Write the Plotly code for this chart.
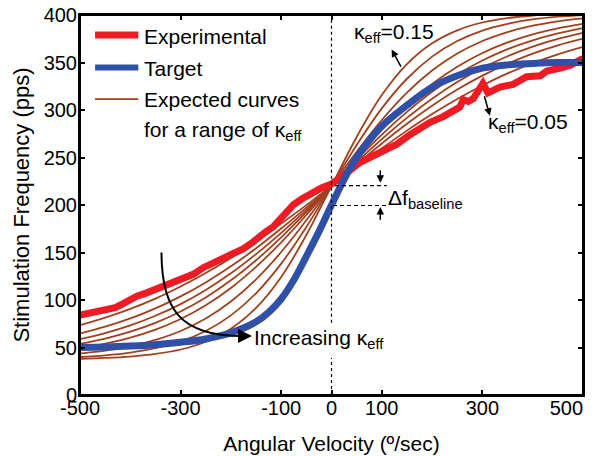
import plotly.graph_objects as go

# ---------------- data ----------------
X_GRID = [-500, -450, -400, -350, -300, -250, -200, -150, -100, -50, 0,
          50, 100, 150, 200, 250, 300, 350, 400, 450, 500]

EXPECTED_CURVES = [
    [73.5, 81.4, 90.7, 101.5, 114.2, 128.4, 144.3, 161.7, 180.4, 199.9, 220,
     240.1, 259.6, 278.3, 295.7, 311.6, 325.8, 338.5, 349.3, 358.6, 366.5],
    [64.8, 71.9, 80.6, 91.2, 103.8, 118.5, 135.4, 154.4, 175.2, 197.2, 220,
     242.8, 264.8, 285.6, 304.6, 321.5, 336.2, 348.8, 359.4, 368.1, 375.2],
    [58.8, 65.2, 73.3, 83.4, 95.7, 110.6, 128.1, 148.3, 170.7, 194.9, 220,
     245.1, 269.3, 291.7, 311.9, 329.4, 344.3, 356.6, 366.7, 374.8, 381.2],
    [53.7, 59.3, 66.6, 75.9, 87.9, 102.7, 120.7, 141.9, 166.0, 192.4, 220,
     247.6, 274.0, 298.1, 319.3, 337.3, 352.1, 364.1, 373.4, 380.7, 386.3],
    [49.3, 54.0, 60.3, 68.8, 80.0, 94.5, 112.7, 134.9, 160.7, 189.5, 220,
     250.5, 279.3, 305.1, 327.3, 345.5, 360.0, 371.2, 379.7, 386.0, 390.7],
    [43.6, 46.7, 51.3, 58.0, 67.4, 80.6, 98.5, 121.7, 150.5, 183.9, 220,
     256.1, 289.5, 318.3, 341.5, 359.4, 372.6, 382.0, 388.7, 393.3, 396.4],
    [40.0, 41.8, 44.7, 49.3, 56.4, 67.4, 83.8, 107.1, 138.3, 176.9, 220,
     263.1, 301.7, 332.9, 356.2, 372.6, 383.6, 390.7, 395.3, 398.2, 400.0],
    [38.1, 39.0, 40.5, 43.2, 47.9, 56.1, 69.8, 91.7, 124.3, 168.4, 220,
     271.6, 315.7, 348.3, 370.2, 383.9, 392.1, 396.8, 399.5, 401.0, 401.9],
]

TARGET_X = [-500, -450, -400, -350, -300, -250, -200, -150, -125, -100, -75, -50, -25, 0,
            25, 50, 75, 100, 150, 200, 250, 300, 350, 400, 450, 500]
TARGET_Y = [50, 50.5, 51.5, 53, 55.5, 59, 65.5, 77, 87, 101, 121, 146, 172, 200,
            227, 250, 268, 283, 305, 324, 336, 344, 347.5, 349, 350, 350]

EXP_X = [-500, -490, -475, -460, -441, -430, -415, -405, -387, -370, -355, -341, -320,
         -301, -285, -275, -255, -240, -225, -208, -190, -175, -156, -142, -130, -116,
         -102, -90, -76, -60, -40, -20, 0, 20, 40, 57, 80, 100, 130, 156, 180, 196, 222,
         240, 255, 262, 272, 282, 292, 301, 311, 320, 335, 361, 388, 415, 428, 455, 475,
         495, 500]
EXP_Y = [84, 85, 87, 88, 90, 92, 96, 99, 104, 107, 110, 114, 117,
         121, 124, 127, 134, 138, 141, 145, 150, 154, 161, 168, 172, 177,
         186, 193, 200, 206, 213, 218, 222, 229, 238, 245, 251, 255, 264, 274, 282, 287, 293,
         298, 303, 311, 309, 312, 322, 328, 318, 320, 324, 327, 335, 336, 341, 344, 347,
         353, 354]

X_TICKS = [-500, -300, -100, 0, 100, 300, 500]
# the last label sits left of its tick in the reference (kept inside the figure)
X_TICK_TEXT = ["-500", "-300", "-100", "0", "100", "300", "500" + "\u00a0" * 6]

RED = "#ED1C24"
BLUE = "#3050A8"
BROWN = "#A0401E"
FONT = "Liberation Sans, Arial, sans-serif"

fig = go.Figure()

for ys in EXPECTED_CURVES:
    fig.add_trace(go.Scatter(x=X_GRID, y=ys, mode="lines", line=dict(color=BROWN, width=1.8, shape="spline"),
                             showlegend=False, hoverinfo="skip"))
fig.add_trace(go.Scatter(x=EXP_X, y=EXP_Y, mode="lines", line=dict(color=RED, width=7),
                         showlegend=False))
fig.add_trace(go.Scatter(x=TARGET_X, y=TARGET_Y, mode="lines", line=dict(color=BLUE, width=7, shape="spline"),
                         showlegend=False))

shapes = []
# plot frame
shapes.append(dict(type="rect", xref="paper", yref="paper", x0=0, x1=1, y0=0, y1=1,
                   line=dict(color="black", width=2), layer="above"))
# dashed vertical line at 0 (broken where the label sits)
for y0, y1 in [(0, 39), (76, 400)]:
    shapes.append(dict(type="line", xref="x", yref="y", x0=0, x1=0, y0=y0, y1=y1,
                       line=dict(color="black", width=1.2, dash="3px,3px")))
# baseline difference dashed lines
shapes.append(dict(type="line", xref="x", yref="y", x0=7, x1=110, y0=220.5, y1=220.5,
                   line=dict(color="black", width=1.2, dash="4px,3px")))
shapes.append(dict(type="line", xref="x", yref="y", x0=3, x1=110, y0=199.5, y1=199.5,
                   line=dict(color="black", width=1.2, dash="4px,3px")))
# curved "increasing" arrow
shapes.append(dict(type="path", xref="x", yref="y",
                   path="M -338,150 C -338,90 -300,62 -178,62",
                   line=dict(color="black", width=2)))
# manual legend samples
shapes.append(dict(type="line", xref="x", yref="y", x0=-470, x1=-384, y0=379, y1=379,
                   line=dict(color=RED, width=7)))
shapes.append(dict(type="line", xref="x", yref="y", x0=-470, x1=-384, y0=344.7, y1=344.7,
                   line=dict(color=BLUE, width=6)))
shapes.append(dict(type="line", xref="x", yref="y", x0=-470, x1=-384, y0=311.5, y1=311.5,
                   line=dict(color=BROWN, width=1.8)))

ann = []
def txt(x, y, t, size=21):
    ann.append(dict(x=x, y=y, xref="x", yref="y", text=t, showarrow=False,
                    xanchor="left", yanchor="middle", font=dict(family=FONT, size=size, color="black")))

def arrow(hx, hy, tx, ty, head=2, size=1, width=1.5):
    ann.append(dict(x=hx, y=hy, ax=tx, ay=ty, xref="x", yref="y", axref="x", ayref="y",
                    text="", showarrow=True, arrowhead=head, arrowsize=size, arrowwidth=width,
                    arrowcolor="black"))

txt(-376, 377.3, "Experimental")
txt(-376, 344, "Target")
txt(-376, 310.7, "Expected curves")
txt(-376, 278.1, "for a range of κ<sub>eff</sub>")
txt(40, 381, "κ<sub>eff</sub>=0.15")
txt(308, 286, "κ<sub>eff</sub>=0.05")
txt(-158, 59, "Increasing κ<sub>eff</sub>")
txt(108, 206, "Δf<sub>baseline</sub>")

arrow(119.6, 363.7, 139.6, 344)
arrow(315, 294, 303, 316)
arrow(97, 223.5, 97, 238)
arrow(97, 198, 97, 183)
arrow(-158, 62, -182, 62, head=2, size=1.4, width=2)

# page body has an 8 px margin: figure is 592x448 so the plot lands where the reference has it
fig.update_layout(
    width=592, height=448,
    margin=dict(l=72, r=17, t=7, b=61, autoexpand=False),
    paper_bgcolor="white", plot_bgcolor="white",
    font=dict(family=FONT, size=20, color="black"),
    shapes=shapes, annotations=ann, showlegend=False,
)
fig.update_xaxes(range=[-500, 500], tickvals=X_TICKS, ticktext=X_TICK_TEXT,
                 ticks="inside", ticklen=5, tickwidth=1.5, tickcolor="black",
                 showline=True, linecolor="black", linewidth=2, mirror="ticks",
                 showgrid=False, zeroline=False, automargin=False, ticklabelstandoff=-6,
                 ticklabeloverflow="allow",
                 title=dict(text="Angular Velocity (º/sec)", font=dict(size=21), standoff=18),
                 tickfont=dict(size=20))
fig.update_yaxes(range=[0, 400], dtick=50,
                 ticks="inside", ticklen=5, tickwidth=1.5, tickcolor="black",
                 showline=True, linecolor="black", linewidth=2, mirror="ticks",
                 showgrid=False, zeroline=False, automargin=False, ticklabelstandoff=-3,
                 ticklabeloverflow="allow",
                 title=dict(text="Stimulation Frequency (pps)", font=dict(size=22), standoff=8),
                 tickfont=dict(size=20))

fig.write_html("out.html")
